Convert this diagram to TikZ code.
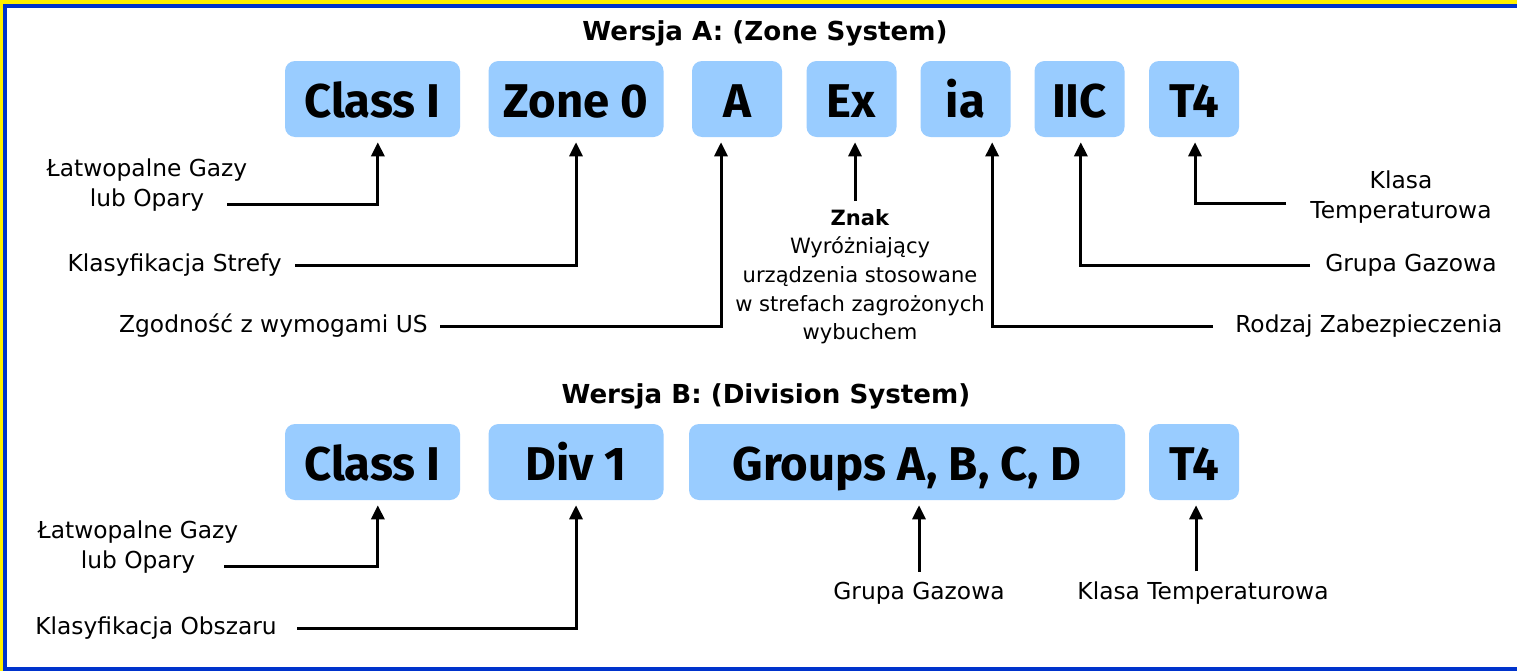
\documentclass[tikz,border=0pt]{standalone}
\usepackage{fontspec}
\setmainfont{DejaVu Sans}
\newfontfamily\tagfont{Fira Sans}
\usetikzlibrary{arrows.meta}

\definecolor{frameyellow}{RGB}{255,240,0}
\definecolor{frameblue}{RGB}{0,51,204}
\definecolor{tagblue}{RGB}{153,204,255}

\tikzset{
  tag/.style={fill=tagblue, rounded corners=7.5pt, minimum height=57pt, inner sep=0pt,
    text height=29pt, text depth=1pt, font=\tagfont\bfseries\fontsize{35.5}{40}\selectfont},
  heading/.style={font=\bfseries\fontsize{19.6}{23}\selectfont},
  lbl/.style={inner sep=0pt, align=center, font=\fontsize{17.5}{22.5}\selectfont},
  pointer/.style={line width=2.25pt, -{Triangle[length=10.5pt,width=9.75pt]}, shorten >=3.75pt}
}

\begin{document}
\begin{tikzpicture}[x=0.75pt, y=-0.75pt]
\useasboundingbox (0,0) rectangle (1517,671);
\fill[frameyellow] (0,0) rectangle (1517,671);
\filldraw[fill=white, draw=frameblue, line width=3pt] (5,6) rectangle (1545,669);

% Version A: the zone system
\node[heading] (titleA) at (765,33) {Wersja A: (Zone System)};
\foreach \name/\x/\w/\txt in {aClass/372.5/131.25pt/Class I, aZone/576/131.25pt/Zone 0,
    aUS/737/67.5pt/A, aEx/851.5/67.5pt/Ex, aIa/965.5/67.5pt/ia, aGas/1079.5/67.5pt/IIC,
    aTemp/1194/67.5pt/T4}
    \node[tag, minimum width=\w] (\name) at (\x,99) {\txt};

\node[lbl] (lFlamA) at (147,185) {Łatwopalne Gazy\\lub Opary};
\coordinate (fA) at (227,204);
\node[lbl, anchor=east] (lZone) at (282,265) {Klasyfikacja Strefy};
\node[lbl, anchor=east] (lUS) at (428,326) {Zgodność z wymogami US};
\node[lbl, anchor=north, font=\fontsize{15.8}{21.5}\selectfont] (lMark) at (860,209)
    {\textbf{Znak}\\Wyróżniający\\urządzenia stosowane\\w strefach zagrożonych\\wybuchem};
\node[lbl, anchor=west] (lProt) at (1235,326) {Rodzaj Zabezpieczenia};
\node[lbl, anchor=west] (lGasA) at (1325,265) {Grupa Gazowa};
\node[lbl] (lTempA) at (1401,197) {Klasa\\Temperaturowa};
\coordinate (tA) at (1286,203);

\draw[pointer] (fA) -| ([xshift=4pt]aClass.south);
\draw[pointer] ([xshift=9.75pt]lZone.east) -| (aZone.south);
\draw[pointer] ([xshift=9pt]lUS.east) -| ([xshift=-12pt]aUS.south);
\draw[pointer] ([xshift=-3.75pt,yshift=6pt]lMark.north) -- ([xshift=-3.75pt]aEx.south -| lMark.north);
\draw[pointer] ([xshift=-16.5pt]lProt.west) -| ([xshift=20pt]aIa.south);
\draw[pointer] ([xshift=-11.25pt]lGasA.west) -| ([xshift=1pt]aGas.south);
\draw[pointer] (tA) -| ([xshift=0.75pt]aTemp.south);

% Version B: the division system
\node[heading] (titleB) at (766,396) {Wersja B: (Division System)};
\foreach \name/\x/\w/\txt in {bClass/372.5/131.25pt/Class I, bDiv/576/131.25pt/Div 1,
    bGroups/907/327pt/{Groups A, B, C, D}, bTemp/1194/67.5pt/T4}
    \node[tag, minimum width=\w] (\name) at (\x,462) {\txt};

\node[lbl] (lFlamB) at (138,547) {Łatwopalne Gazy\\lub Opary};
\coordinate (fB) at (224,566);
\node[lbl, anchor=east] (lArea) at (277,628) {Klasyfikacja Obszaru};
\node[lbl] (lGasB) at (919,593) {Grupa Gazowa};
\node[lbl] (lTempB) at (1203,593) {Klasa Temperaturowa};
\coordinate (tB) at (lTempB.north -| bTemp.south);

\draw[pointer] (fB) -| ([xshift=4pt]bClass.south);
\draw[pointer] ([xshift=15pt]lArea.east) -| (bDiv.south);
\draw[pointer] ([yshift=7.5pt]lGasB.north) -- (lGasB.north |- bGroups.south);
\draw[pointer] ([xshift=1.5pt,yshift=7.5pt]tB) -- ([xshift=1.5pt]bTemp.south);

\end{tikzpicture}
\end{document}
